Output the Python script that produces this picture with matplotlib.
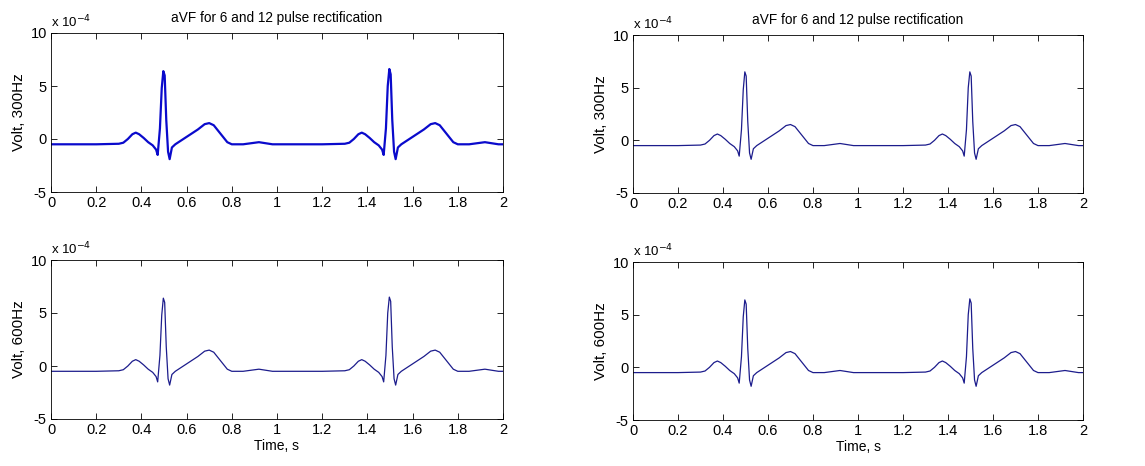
import matplotlib
matplotlib.use('Agg')
import matplotlib.pyplot as plt
from matplotlib.ticker import FuncFormatter

plt.rcParams['font.family'] = ['Liberation Sans', 'DejaVu Sans']

# time axis (s) and aVF voltage in units of 1e-4 V
time_s = [0.00, 0.10, 0.20, 0.30, 0.32, 0.34, 0.36, 0.375, 0.39, 0.41, 0.43, 0.45,
          0.465, 0.472, 0.482, 0.490, 0.497, 0.503, 0.510, 0.518, 0.525, 0.535, 0.55,
          0.60, 0.65, 0.68, 0.70, 0.72, 0.75, 0.78, 0.80, 0.85, 0.92, 0.98, 1.00,
          1.10, 1.20, 1.30, 1.32, 1.34, 1.36, 1.375, 1.39, 1.41, 1.43, 1.45,
          1.465, 1.472, 1.482, 1.490, 1.497, 1.503, 1.510, 1.518, 1.525, 1.535, 1.55,
          1.60, 1.65, 1.68, 1.70, 1.72, 1.75, 1.78, 1.80, 1.85, 1.92, 1.98, 2.00]

volt_6p_300 = [-0.5, -0.5, -0.5, -0.45, -0.35, 0.0, 0.45, 0.6, 0.45, 0.1, -0.3, -0.6,
               -1.0, -1.5, 1.0, 4.8, 6.4, 6.0, 1.8, -1.2, -1.9, -0.8, -0.5,
               0.2, 0.9, 1.4, 1.5, 1.3, 0.5, -0.3, -0.5, -0.5, -0.3, -0.5, -0.5,
               -0.5, -0.5, -0.45, -0.35, 0.0, 0.45, 0.6, 0.45, 0.1, -0.3, -0.6,
               -1.0, -1.5, 1.0, 5.0, 6.6, 6.1, 1.8, -1.2, -1.9, -0.8, -0.5,
               0.2, 0.9, 1.4, 1.5, 1.3, 0.5, -0.3, -0.5, -0.5, -0.3, -0.5, -0.5]

volt_12p_300 = [-0.5, -0.5, -0.5, -0.45, -0.35, 0.0, 0.45, 0.6, 0.45, 0.1, -0.3, -0.6,
                -1.0, -1.5, 1.0, 4.8, 6.5, 6.1, 1.8, -1.2, -1.8, -0.8, -0.5,
                0.2, 0.9, 1.4, 1.5, 1.3, 0.5, -0.3, -0.5, -0.5, -0.3, -0.5, -0.5,
                -0.5, -0.5, -0.45, -0.35, 0.0, 0.45, 0.6, 0.45, 0.1, -0.3, -0.6,
                -1.0, -1.5, 1.0, 5.0, 6.5, 6.1, 1.8, -1.2, -1.8, -0.8, -0.5,
                0.2, 0.9, 1.4, 1.5, 1.3, 0.5, -0.3, -0.5, -0.5, -0.3, -0.5, -0.5]

volt_6p_600 = [-0.5, -0.5, -0.5, -0.45, -0.35, 0.0, 0.45, 0.6, 0.45, 0.1, -0.3, -0.6,
               -1.0, -1.5, 1.0, 4.8, 6.4, 6.0, 1.8, -1.2, -1.8, -0.8, -0.5,
               0.2, 0.9, 1.4, 1.5, 1.3, 0.5, -0.3, -0.5, -0.5, -0.3, -0.5, -0.5,
               -0.5, -0.5, -0.45, -0.35, 0.0, 0.45, 0.6, 0.45, 0.1, -0.3, -0.6,
               -1.0, -1.5, 1.0, 5.0, 6.5, 6.1, 1.8, -1.2, -1.8, -0.8, -0.5,
               0.2, 0.9, 1.4, 1.5, 1.3, 0.5, -0.3, -0.5, -0.5, -0.3, -0.5, -0.5]

volt_12p_600 = [-0.5, -0.5, -0.5, -0.45, -0.35, 0.0, 0.45, 0.6, 0.45, 0.1, -0.3, -0.6,
                -1.0, -1.5, 1.0, 4.8, 6.4, 6.0, 1.8, -1.2, -1.8, -0.8, -0.5,
                0.2, 0.9, 1.4, 1.5, 1.3, 0.5, -0.3, -0.5, -0.5, -0.3, -0.5, -0.5,
                -0.5, -0.5, -0.45, -0.35, 0.0, 0.45, 0.6, 0.45, 0.1, -0.3, -0.6,
                -1.0, -1.5, 1.0, 5.0, 6.5, 6.1, 1.8, -1.2, -1.8, -0.8, -0.5,
                0.2, 0.9, 1.4, 1.5, 1.3, 0.5, -0.3, -0.5, -0.5, -0.3, -0.5, -0.5]

x_ticks = [0, 0.2, 0.4, 0.6, 0.8, 1.0, 1.2, 1.4, 1.6, 1.8, 2.0]
y_ticks = [-5, 0, 5, 10]
title = 'aVF for 6 and 12 pulse rectification'

fig = plt.figure(figsize=(11.45, 4.66), dpi=100)

panels = [
    # rect, data, ylabel, title, xlabel, color, lw
    ([51/1145, 1 - 192/466, 452/1145, 159/466], volt_6p_300, 'Volt, 300Hz', title, None, '#0a0acc', 1.6),
    ([633/1145, 1 - 193/466, 450/1145, 158/466], volt_12p_300, 'Volt, 300Hz', title, None, '#1c1c8c', 0.9),
    ([51/1145, 1 - 419/466, 452/1145, 159/466], volt_6p_600, 'Volt, 600Hz', None, 'Time, s', '#1c1c8c', 0.9),
    ([633/1145, 1 - 420/466, 450/1145, 158/466], volt_12p_600, 'Volt, 600Hz', None, 'Time, s', '#1c1c8c', 0.9),
]

fmt = FuncFormatter(lambda v, p: '%g' % v)

for rect, volts, ylab, ttl, xlab, col, lw in panels:
    ax = fig.add_axes(rect)
    ax.plot(time_s, volts, color=col, lw=lw)
    ax.set_xlim(0, 2)
    ax.set_ylim(-5, 10)
    ax.set_xticks(x_ticks)
    ax.set_yticks(y_ticks)
    ax.xaxis.set_major_formatter(fmt)
    ax.yaxis.set_major_formatter(fmt)
    ax.tick_params(direction='in', top=True, right=True, length=4, width=0.6,
                   labelsize=10.5, pad=3)
    for s in ax.spines.values():
        s.set_linewidth(0.6)
    ax.set_ylabel(ylab, fontsize=11, labelpad=3)
    if ttl:
        ax.set_title(ttl, fontsize=9.8, pad=8)
    if xlab:
        ax.set_xlabel(xlab, fontsize=10, labelpad=1)
    ax.text(0.0, 1.015, 'x 10$^{-4}$', transform=ax.transAxes, fontsize=9.5,
            ha='left', va='bottom')

fig.savefig('out.png', dpi=100)
